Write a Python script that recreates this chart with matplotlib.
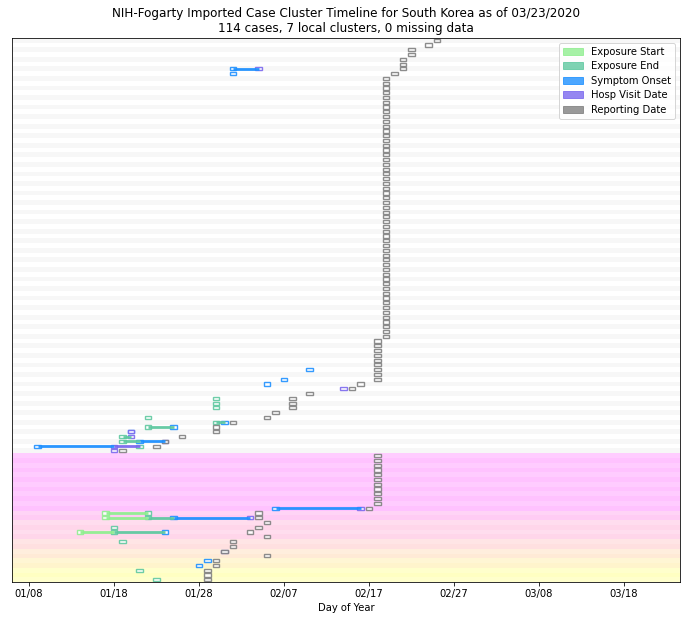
import matplotlib
matplotlib.use('Agg')
import matplotlib.pyplot as plt
from matplotlib.patches import Rectangle, Patch

title = ('NIH-Fogarty Imported Case Cluster Timeline for South Korea as of 03/23/2020\n'
         '114 cases, 7 local clusters, 0 missing data')

event_names = ['Exposure Start', 'Exposure End', 'Symptom Onset', 'Hosp Visit Date', 'Reporting Date']
event_colors = ['#90ee90', '#5fc8a0', '#1e90ff', '#7b68ee', '#808080']

# x axis = day of year
tick_days = [8, 18, 28, 38, 48, 58, 68, 78]
tick_labels = ['01/08', '01/18', '01/28', '02/07', '02/17', '02/27', '03/08', '03/18']

# rows from top: first the unclustered cases, then the 7 local clusters
n_unclustered = 87
cluster_sizes = [12, 2, 4, 2, 2, 2, 3]

# reporting day (day of year) for every case, top row first
report_day = [
    56, 55, 53, 53, 52, 52, 52, 51,
    50, 50, 50, 50, 50, 50, 50, 50, 50, 50, 50,
    50, 50, 50, 50, 50, 50, 50, 50, 50, 50, 50,
    50, 50, 50, 50, 50, 50, 50, 50, 50, 50, 50,
    50, 50, 50, 50, 50, 50, 50, 50, 50, 50, 50,
    50, 50, 50, 50, 50, 50, 50, 50, 50, 50, 50,
    49, 49, 49, 49, 49, 49, 49, 49, 49,
    47, 46, 41, 39, 39, 39, 37, 36, 32, 30, 30, 26, 24, 23, 19,
    49, 49, 49, 49, 49, 49, 49, 49, 49, 49, 49, 48,
    35, 35,
    36, 35, 34, 36,
    32, 32,
    31, 36,
    30, 30,
    29, 29, 29,
]

# other events, keyed by row
exposure_start = {99: 17, 100: 17, 103: 14}
exposure_end = {75: 30, 76: 30, 77: 30, 79: 22, 80: 30, 81: 22, 83: 19, 84: 19, 85: 21,
                99: 22, 100: 22, 102: 18, 103: 18, 105: 19, 111: 21, 113: 23}
symptom_onset = {6: 32, 7: 32, 69: 41, 71: 38, 72: 36, 80: 31, 81: 25, 82: 20, 84: 21, 85: 9,
                 98: 37, 100: 25, 103: 24, 109: 29, 110: 28}
hosp_visit = {6: 35, 73: 45, 82: 20, 83: 20, 84: 24, 85: 18, 86: 18, 98: 47, 100: 34, 107: 31}

n = len(report_day)
cluster_of = [-1] * n_unclustered + [c for c, s in enumerate(cluster_sizes) for _ in range(s)]

fig, ax = plt.subplots(figsize=(687 / 72, 620 / 72), dpi=72)
fig.subplots_adjust(left=0.0175, right=0.99, bottom=0.061, top=0.939)

# background stripes
cmap = plt.get_cmap('spring')
for row in range(n):
    c = cluster_of[row]
    if c < 0:
        if row % 2 == 0:
            ax.axhspan(row - 0.5, row + 0.5, color='gray', alpha=0.06, lw=0, zorder=0)
    else:
        ax.axhspan(row - 0.5, row + 0.5, color=cmap(c / 6), alpha=0.24 if row % 2 == 0 else 0.2,
                   lw=0, zorder=0)

# timelines
box_w, box_h = 0.72, 0.66
for row in range(n):
    events = []
    for k, d in enumerate([exposure_start, exposure_end, symptom_onset, hosp_visit]):
        if row in d:
            events.append((d[row], k))
    events.sort()
    for (d0, k0), (d1, k1) in zip(events[:-1], events[1:]):
        ax.plot([d0, d1], [row, row], color=event_colors[k0], lw=2.8, solid_capstyle='butt',
                alpha=0.95, zorder=3)
    events.append((report_day[row], 4))
    for d, k in events:
        ax.add_patch(Rectangle((d - box_w / 2, row - box_h / 2), box_w, box_h,
                               facecolor=(1, 1, 1, 0.5), edgecolor=event_colors[k], lw=1.4,
                               alpha=0.9, zorder=2))

ax.set_xlim(6, 84.6)
ax.set_ylim(n - 0.5, -0.5)
ax.set_yticks([])
ax.set_xticks(tick_days)
ax.set_xticklabels(tick_labels)
ax.set_xlabel('Day of Year')
ax.set_title(title, fontsize=12)

handles = [Patch(facecolor=c, edgecolor=c, alpha=0.8, label=l) for c, l in zip(event_colors, event_names)]
ax.legend(handles=handles, loc='upper right', labelspacing=0.45)

plt.savefig('out.png', dpi=72)
